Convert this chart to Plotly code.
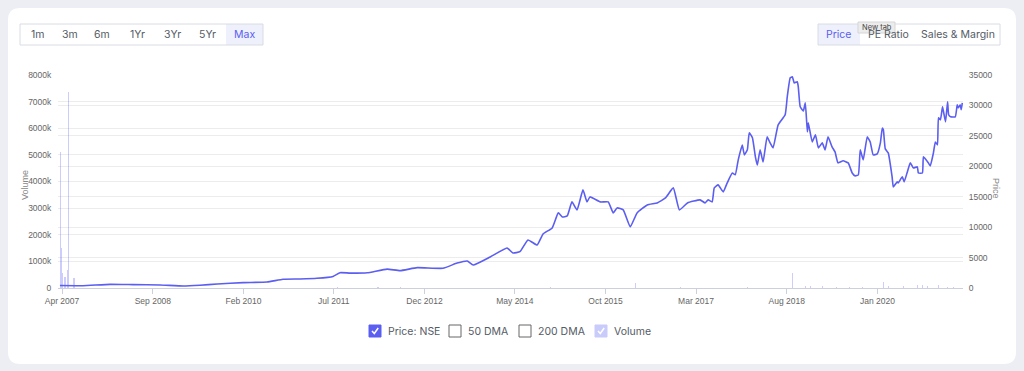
import plotly.graph_objects as go

# ---------------- data ----------------
price_dates = [
    "2007-03-20", "2007-07-29", "2008-01-01", "2008-05-11", "2008-10-13", "2009-02-22", "2009-05-28",
    "2009-09-04", "2010-01-30", "2010-06-15", "2010-09-15", "2010-12-21", "2011-03-27", "2011-06-27",
    "2011-08-06", "2011-10-02", "2012-01-08", "2012-05-01", "2012-07-14", "2012-10-20", "2013-03-16",
    "2013-06-05", "2013-08-02", "2013-09-05", "2013-12-11", "2014-03-17", "2014-04-20", "2014-05-30",
    "2014-07-15", "2014-09-05", "2014-10-09", "2014-11-30", "2015-01-04", "2015-01-27", "2015-02-24",
    "2015-03-23", "2015-04-21", "2015-05-25", "2015-06-17", "2015-07-04", "2015-09-01", "2015-10-16",
    "2015-11-14", "2015-12-06", "2016-01-10", "2016-02-19", "2016-03-29", "2016-05-26", "2016-07-22",
    "2016-09-07", "2016-10-22", "2016-11-26", "2017-01-11", "2017-03-24", "2017-04-22", "2017-05-09",
    "2017-06-01", "2017-06-13", "2017-07-05", "2017-08-03", "2017-08-26", "2017-09-24", "2017-10-11",
    "2017-10-28", "2017-11-20", "2017-12-02", "2017-12-19", "2017-12-30", "2018-01-17", "2018-02-03",
    "2018-02-14", "2018-03-02", "2018-03-19", "2018-04-11", "2018-04-28", "2018-05-15", "2018-06-13",
    "2018-07-23", "2018-08-04", "2018-08-21", "2018-09-02", "2018-09-13", "2018-09-30", "2018-10-06",
    "2018-10-17", "2018-11-04", "2018-11-15", "2018-11-27", "2018-12-02", "2018-12-25", "2019-01-12",
    "2019-01-29", "2019-02-20", "2019-03-08", "2019-03-25", "2019-04-17", "2019-05-04", "2019-05-21",
    "2019-06-19", "2019-07-18", "2019-08-10", "2019-08-27", "2019-09-14", "2019-09-25", "2019-10-12",
    "2019-11-04", "2019-11-21", "2019-12-08", "2019-12-31", "2020-01-18", "2020-01-29", "2020-02-04",
    "2020-02-15", "2020-03-03", "2020-03-25", "2020-04-01", "2020-04-23", "2020-04-29", "2020-05-22",
    "2020-06-02", "2020-06-20", "2020-07-07", "2020-07-24", "2020-08-16", "2020-08-22", "2020-09-14",
    "2020-09-20", "2020-10-18", "2020-10-29", "2020-11-16", "2020-11-27", "2020-12-09", "2020-12-15",
    "2020-12-26", "2021-01-07", "2021-01-13", "2021-01-24", "2021-02-05", "2021-02-11", "2021-02-22",
    "2021-03-21", "2021-04-01", "2021-04-07", "2021-04-18", "2021-04-24", "2021-04-30",
]
price_values = [
    400, 380, 600, 550, 500, 330, 450,
    660, 880, 990, 1430, 1480, 1590, 1900,
    2520, 2450, 2500, 3100, 2850, 3340, 3240,
    4100, 4440, 3780, 5100, 6580, 5760, 5970,
    7900, 7070, 8880, 9870, 12340, 11680, 11840,
    14150, 12830, 16120, 14150, 14970, 14150, 14150,
    12340, 13160, 12830, 10040, 12340, 13650, 13980,
    14800, 16450, 12830, 13980, 14480, 13980, 14480,
    14150, 16450, 16940, 15800, 17270, 18900, 18600,
    21060, 23500, 21880, 22700, 25500, 24700, 21550,
    20200, 22700, 20700, 24840, 23850, 23030, 26800,
    28460, 31400, 34540, 34700, 33700, 33890, 33060,
    29780, 29100, 30430, 25660, 27140, 24000, 25170,
    23030, 23850, 22700, 24840, 23190, 22370, 20560,
    20900, 20560, 18900, 18420, 18590, 22700, 21060,
    24840, 24000, 21880, 22040, 23850, 26300, 26000,
    22860, 22200, 18260, 16610, 17440, 17270, 18260,
    17440, 19080, 20560, 19740, 19900, 18900, 18900,
    21550, 20560, 20070, 22200, 24000, 23520, 27960,
    27630, 29780, 28950, 27300, 30600, 28460, 28130,
    28130, 30100, 29610, 30100, 29280, 30430,
]

volume_dates = [
    "2007-03-22", "2007-03-28", "2007-04-05", "2007-04-18", "2007-05-01", "2007-05-10", "2007-06-03",
    "2007-06-09", "2011-07-20", "2012-03-10", "2012-07-14", "2014-11-18", "2016-03-18", "2016-12-01",
    "2017-12-19", "2018-09-02", "2018-11-15", "2018-12-13", "2019-02-20", "2019-05-15", "2019-07-28",
    "2019-10-06", "2020-02-04", "2020-03-03", "2020-05-27", "2020-08-16", "2020-09-14", "2020-10-12",
    "2020-12-15", "2021-02-05", "2021-03-09",
]
volume_values = [
    5100000, 1500000, 560000, 400000, 680000, 7350000, 390000,
    390000, 40000, 30000, 35000, 40000, 180000, 50000,
    40000, 560000, 80000, 60000, 60000, 40000, 40000,
    50000, 230000, 80000, 60000, 100000, 110000, 60000,
    130000, 40000, 40000,
]

x_tick_dates = ["2007-04-01", "2008-09-01", "2010-02-01", "2011-07-01", "2012-12-01",
                "2014-05-01", "2015-10-01", "2017-03-01", "2018-08-01", "2020-01-01"]
x_tick_labels = ["Apr 2007", "Sep 2008", "Feb 2010", "Jul 2011", "Dec 2012",
                 "May 2014", "Oct 2015", "Mar 2017", "Aug 2018", "Jan 2020"]
vol_ticks = [0, 1000000, 2000000, 3000000, 4000000, 5000000, 6000000, 7000000, 8000000]
vol_tick_labels = ["0", "1000k", "2000k", "3000k", "4000k", "5000k", "6000k", "7000k", "8000k"]
price_ticks = [0, 5000, 10000, 15000, 20000, 25000, 30000, 35000]
price_tick_labels = ["0", "5000", "10000", "15000", "20000", "25000", "30000", "35000"]

range_buttons = ["1m", "3m", "6m", "1Yr", "3Yr", "5Yr", "Max"]
view_buttons = ["Price", "PE Ratio", "Sales & Margin"]
legend_items = ["Price: NSE", "50 DMA", "200 DMA", "Volume"]

# ---------------- layout helpers ----------------
W, H = 1024, 371
PL, PR, PT, PB = 58, 963, 75, 288
PURPLE = "#5b5ef0"
TXT = "#555b66"
FONT = "Inter, Noto Sans, sans-serif"
TICKFONT = dict(family="Liberation Sans, Arial, sans-serif", size=8.5, color="#666")


def px(x):
    return (x - PL) / (PR - PL)


def py(y):
    return (PB - y) / (PB - PT)


fig = go.Figure()

fig.add_trace(go.Bar(
    x=volume_dates, y=volume_values, yaxis="y", width=6 * 86400000,
    marker=dict(color="rgba(110,112,245,0.35)", line=dict(width=0)),
    name="Volume", hoverinfo="skip",
))
fig.add_trace(go.Scatter(
    x=price_dates, y=price_values, yaxis="y2", mode="lines",
    line=dict(color=PURPLE, width=1.6, shape="spline", smoothing=0.4),
    name="Price: NSE",
))

shapes = []
annotations = []

# card with rounded corners
cx0, cy0, cx1, cy1, r = 8, 8, 1016, 364, 12
rx = r / (PR - PL)
ry = r / (PB - PT)
X0, X1, Y0, Y1 = px(cx0), px(cx1), py(cy0), py(cy1)  # Y0 top (larger), Y1 bottom
card_path = (
    f"M {X0 + rx} {Y0} L {X1 - rx} {Y0} Q {X1} {Y0} {X1} {Y0 - ry} "
    f"L {X1} {Y1 + ry} Q {X1} {Y1} {X1 - rx} {Y1} "
    f"L {X0 + rx} {Y1} Q {X0} {Y1} {X0} {Y1 + ry} "
    f"L {X0} {Y0 - ry} Q {X0} {Y0} {X0 + rx} {Y0} Z"
)
shapes.append(dict(type="path", xref="paper", yref="paper", path=card_path,
                   fillcolor="white", line=dict(width=0), layer="below"))

# range buttons
bx0, bx1, by0, by1 = 20, 263, 24, 45
shapes.append(dict(type="rect", xref="paper", yref="paper", x0=px(226), x1=px(bx1),
                   y0=py(by1), y1=py(by0), fillcolor="#eef0fb", line=dict(width=0)))
shapes.append(dict(type="rect", xref="paper", yref="paper", x0=px(bx0), x1=px(bx1),
                   y0=py(by1), y1=py(by0), fillcolor="rgba(0,0,0,0)",
                   line=dict(color="#d9dce3", width=1)))
rb_centers = [37, 70, 102, 137, 172, 207, 244]
for lab, cx in zip(range_buttons, rb_centers):
    annotations.append(dict(x=px(cx), y=py(34.5), xref="paper", yref="paper", text=lab,
                            showarrow=False, xanchor="center", yanchor="middle",
                            font=dict(family=FONT, size=10.5,
                                      color=PURPLE if lab == "Max" else TXT)))

# view buttons
vx0, vx1 = 818, 1000
shapes.append(dict(type="rect", xref="paper", yref="paper", x0=px(vx0), x1=px(860),
                   y0=py(by1), y1=py(by0), fillcolor="#eef0fb", line=dict(width=0)))
shapes.append(dict(type="rect", xref="paper", yref="paper", x0=px(vx0), x1=px(vx1),
                   y0=py(by1), y1=py(by0), fillcolor="rgba(0,0,0,0)",
                   line=dict(color="#d9dce3", width=1)))
vb_centers = [839, 888, 958]
for lab, cx in zip(view_buttons, vb_centers):
    annotations.append(dict(x=px(cx), y=py(35), xref="paper", yref="paper", text=lab,
                            showarrow=False, xanchor="center", yanchor="middle",
                            font=dict(family=FONT, size=10.5,
                                      color=PURPLE if lab == "Price" else TXT)))
# tooltip "New tab"
shapes.append(dict(type="rect", xref="paper", yref="paper", x0=px(858), x1=px(895),
                   y0=py(33), y1=py(22), fillcolor="#ececec", line=dict(color="#d6d6d6", width=1)))
annotations.append(dict(x=px(876.5), y=py(27.5), xref="paper", yref="paper", text="New tab",
                        showarrow=False, xanchor="center", yanchor="middle",
                        font=dict(family=FONT, size=7.5, color="#444")))

# axis titles
annotations.append(dict(x=px(25), y=py(185), xref="paper", yref="paper", text="Volume",
                        showarrow=False, textangle=-90, xanchor="center", yanchor="middle",
                        font=dict(family="Liberation Sans, Arial", size=9, color="#888")))
annotations.append(dict(x=px(996), y=py(188), xref="paper", yref="paper", text="Price",
                        showarrow=False, textangle=90, xanchor="center", yanchor="middle",
                        font=dict(family="Liberation Sans, Arial", size=9, color="#888")))

# legend
box_x = [369, 449, 519, 595]
for lab, bx in zip(legend_items, box_x):
    checked = lab in ("Price: NSE", "Volume")
    fill = PURPLE if lab == "Price: NSE" else ("#c9cbfa" if lab == "Volume" else "white")
    border = fill if checked else "#666"
    shapes.append(dict(type="rect", xref="paper", yref="paper", x0=px(bx), x1=px(bx + 12),
                       y0=py(337), y1=py(325), fillcolor=fill, line=dict(color=border, width=1)))
    if checked:
        shapes.append(dict(type="path", xref="paper", yref="paper",
                           path=f"M {px(bx+3)} {py(331)} L {px(bx+5.3)} {py(333.5)} L {px(bx+9.2)} {py(328)}",
                           line=dict(color="white", width=1.5)))
    annotations.append(dict(x=px(bx + 17), y=py(331), xref="paper", yref="paper", text=lab,
                            showarrow=False, xanchor="left", yanchor="middle",
                            font=dict(family=FONT, size=10.5, color=TXT)))

fig.update_layout(
    width=W, height=H,
    margin=dict(l=PL, r=W - PR, t=PT, b=H - PB, pad=0),
    paper_bgcolor="#eceef4", plot_bgcolor="white",
    showlegend=False, bargap=0,
    xaxis=dict(type="date", range=["2007-03-09", "2021-05-04"], tickvals=x_tick_dates,
               ticktext=x_tick_labels, tickfont=TICKFONT, showgrid=False,
               showline=True, linecolor="#ccd0dc", linewidth=1,
               ticks="outside", ticklen=5, tickcolor="#ccd0dc", zeroline=False),
    yaxis=dict(range=[0, 8000000], tickvals=vol_ticks, ticktext=vol_tick_labels,
               tickfont=TICKFONT, showgrid=True, gridcolor="#ececec", gridwidth=1,
               zeroline=False, ticks="outside", ticklen=4, tickcolor="rgba(0,0,0,0)", side="left"),
    yaxis2=dict(range=[0, 35000], tickvals=price_ticks, ticktext=price_tick_labels,
                tickfont=TICKFONT, overlaying="y", side="right", showgrid=True,
                gridcolor="#ececec", gridwidth=1, zeroline=False, ticks="outside",
                ticklen=3, tickcolor="rgba(0,0,0,0)"),
    shapes=shapes, annotations=annotations,
)

fig.write_html(
    "out.html",
    config={"displayModeBar": False},
    post_script="document.body.style.margin='0';document.body.style.background='#eceef4';",
)
